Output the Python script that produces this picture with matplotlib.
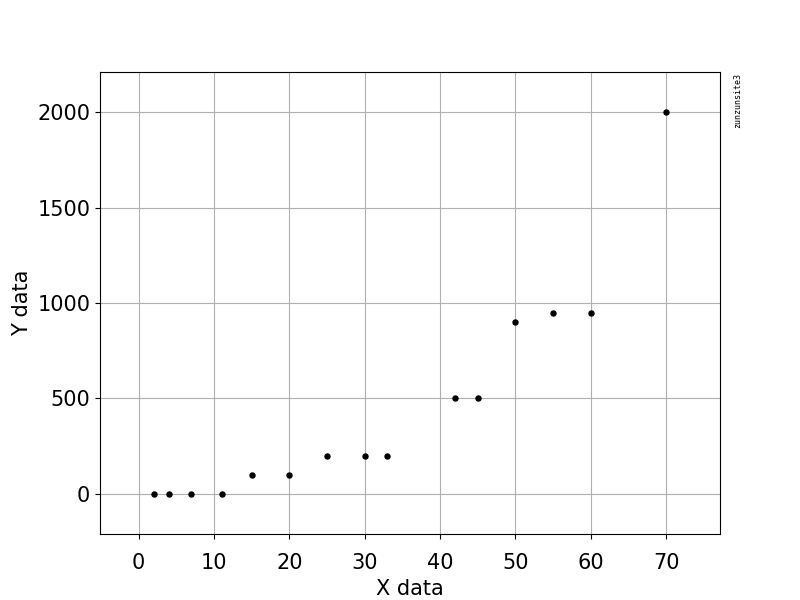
import numpy as np
from matplotlib import pyplot as plt

# data
x_data = np.array([2, 4, 7, 11, 15, 20, 25, 30, 33, 42, 45, 50, 55, 60, 70])
y_data = np.array([0, 0, 0, 0, 100, 100, 200, 200, 200, 500, 500, 900, 950, 950, 2000])

fig = plt.figure(figsize=(8, 6), dpi=100)
ax = fig.add_subplot(111)

ax.plot(x_data, y_data, 'ko', markersize=3.6)

# ~10.5% padding around the data range
xr = x_data.max() - x_data.min()
yr = y_data.max() - y_data.min()
ax.set_xlim(x_data.min() - 0.105 * xr, x_data.max() + 0.105 * xr)
ax.set_ylim(y_data.min() - 0.105 * yr, y_data.max() + 0.105 * yr)

ax.set_xlabel("X data", fontsize=15)
ax.set_ylabel("Y data", fontsize=15)
ax.tick_params(labelsize=15)
ax.tick_params(axis='x', pad=10.5)
ax.grid(True, color='#b0b0b0')
ax.set_axisbelow(True)

fig.text(0.917, 0.878, "zunzunsite3", rotation=90, fontsize=6,
         family='DejaVu Sans Mono', va='top', ha='left')

fig.savefig("out.png", dpi=100)
